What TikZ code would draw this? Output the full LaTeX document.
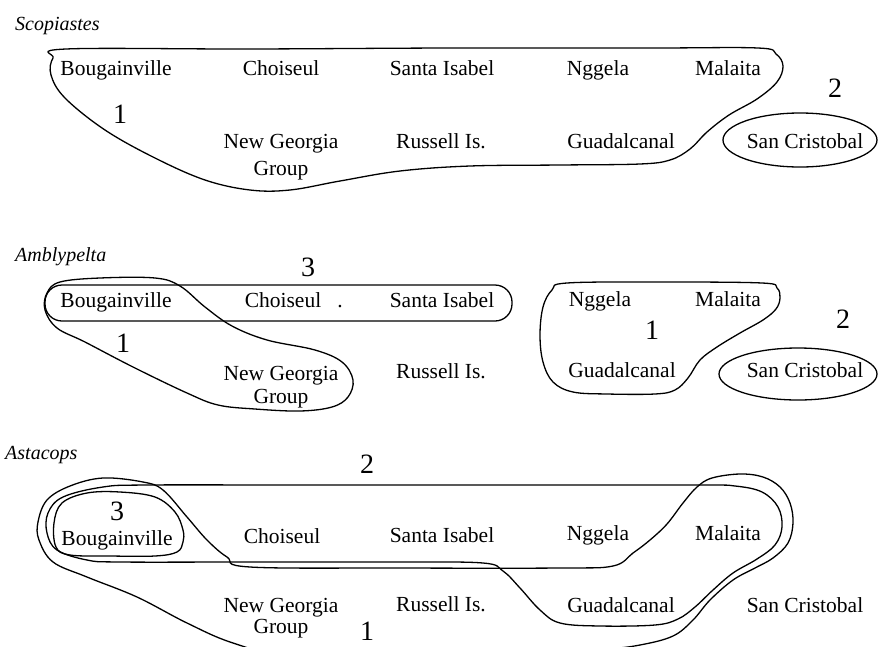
\documentclass[tikz,border=0pt]{standalone}
\usepackage{fontspec}
\setmainfont{Liberation Serif}
\begin{document}
\begin{tikzpicture}[x=1pt,y=-1pt,
  lbl/.style={font=\fontsize{21.5}{24}\selectfont, inner sep=0pt, anchor=base},
  ttl/.style={font=\fontsize{20}{22}\selectfont\itshape, inner sep=0pt, anchor=base west},
  num/.style={font=\fontsize{28}{30}\selectfont, inner sep=0pt, anchor=base},
  ring/.style={line width=1.3pt, line join=round}]
\useasboundingbox (0,0) rectangle (878,646);
\clip (0,0) rectangle (878,646);

% ---------------- Scopiastes ----------------
\node[ttl] (st) at (15,30) {Scopiastes};
\node[lbl] (sb) at (116,75) {Bougainville};
\node[lbl] (sc) at (281,75) {Choiseul};
\node[lbl] (ss) at (442,75) {Santa Isabel};
\node[lbl] (sn) at (598,75) {Nggela};
\node[lbl] (sm) at (728,75) {Malaita};
\node[lbl] (sg1) at (281,148) {New Georgia};
\node[lbl] (sg2) at (281,175) {Group};
\node[lbl] (sr) at (441,148) {Russell Is.};
\node[lbl] (sq) at (621,148) {Guadalcanal};
\node[lbl] (sx) at (805,148) {San Cristobal};
\node[num] (s1) at (120,123) {1};
\node[num] (s2) at (835,97) {2};
\draw[ring] plot[smooth cycle, tension=0.6] coordinates {(66,49) (250,49) (450,48) (650,48) (758,48) (776,54) (783,66) (777,82) (757,99) (729,115) (707,132) (690,149) (670,160) (640,164) (560,165) (470,166) (400,171) (340,181) (290,190) (250,190) (205,180) (155,158) (105,130) (65,98) (51,75) (53,58)};
\draw[ring] (800,140) ellipse [x radius=77, y radius=27];

% ---------------- Amblypelta ----------------
\node[ttl] (at) at (15,261) {Amblypelta};
\node[lbl] (ab) at (116,307) {Bougainville};
\node[lbl] (ac) at (283,307) {Choiseul};
\node[lbl] (ad) at (340,307) {.};
\node[lbl] (as) at (442,307) {Santa Isabel};
\node[lbl] (an) at (600,306) {Nggela};
\node[lbl] (am) at (728,306) {Malaita};
\node[lbl] (ag1) at (281,380) {New Georgia};
\node[lbl] (ag2) at (281,403) {Group};
\node[lbl] (ar) at (441,378) {Russell Is.};
\node[lbl] (aq) at (622,377) {Guadalcanal};
\node[lbl] (ax) at (805,377) {San Cristobal};
\node[num] (a3) at (308,276) {3};
\node[num] (a1) at (123,352) {1};
\node[num] (a1b) at (652,339) {1};
\node[num] (a2) at (843,328) {2};
\draw[ring, rounded corners=17] (45,285) rectangle (512,321);
\draw[ring] plot[smooth cycle, tension=0.6] coordinates {(60,282) (100,278) (155,278) (180,286) (205,307) (232,326) (267,340) (315,350) (342,362) (353,380) (348,397) (332,407) (300,411) (255,409) (218,405) (187,393) (133,367) (85,342) (57,328) (45,310) (47,293)};
\draw[ring] plot[smooth cycle, tension=0.6] coordinates {(567,283) (660,282) (762,283) (777,288) (780,298) (776,309) (763,320) (740,333) (717,347) (700,360) (688,378) (675,390) (655,394) (607,394) (573,392) (553,382) (543,362) (540,335) (543,307) (552,290)};
\draw[ring] (798,374) ellipse [x radius=79, y radius=26];

% ---------------- Astacops ----------------
\node[ttl] (ct) at (5,459) {Astacops};
\node[lbl] (cb) at (117,545) {Bougainville};
\node[lbl] (cc) at (282,543) {Choiseul};
\node[lbl] (cs) at (442,542) {Santa Isabel};
\node[lbl] (cn) at (598,540) {Nggela};
\node[lbl] (cm) at (728,540) {Malaita};
\node[lbl] (cg1) at (281,612) {New Georgia};
\node[lbl] (cg2) at (281,633) {Group};
\node[lbl] (cr) at (441,611) {Russell Is.};
\node[lbl] (cq) at (621,612) {Guadalcanal};
\node[lbl] (cx) at (805,612) {San Cristobal};
\node[num] (c2) at (367,473) {2};
\node[num] (c3) at (117,520) {3};
\node[num] (c1) at (367,640) {1};
\draw[ring] plot[smooth cycle, tension=0.6] coordinates {(54,523) (62,503) (87,493) (120,492) (155,497) (175,512) (183,530) (183,542) (177,552) (155,556) (110,556) (70,555) (56,547)};
\draw[ring] plot[smooth cycle, tension=0.6] coordinates {(147,485) (300,485) (500,485) (697,485) (735,486) (762,492) (778,507) (782,527) (775,545) (757,559) (733,573) (713,590) (695,607) (678,619) (655,625) (600,626) (560,623) (540,610) (520,588) (503,571) (483,563) (400,562) (250,562) (120,562) (87,560) (57,550) (47,533) (48,513) (63,497) (103,487)};
\draw[ring] plot[smooth cycle, tension=0.6] coordinates {(143,482) (163,490) (187,517) (207,540) (227,557) (250,567) (400,568) (560,568) (613,566) (633,553) (650,540) (667,524) (683,503) (697,487) (712,478) (740,474) (763,477) (780,487) (790,503) (793,523) (788,543) (773,558) (755,568) (733,580) (710,600) (693,620) (673,636) (640,645) (600,650) (500,660) (400,664) (300,660) (233,643) (187,623) (137,597) (87,577) (53,562) (39,540) (38,522) (47,500) (70,486) (103,478)};
\end{tikzpicture}
\end{document}
